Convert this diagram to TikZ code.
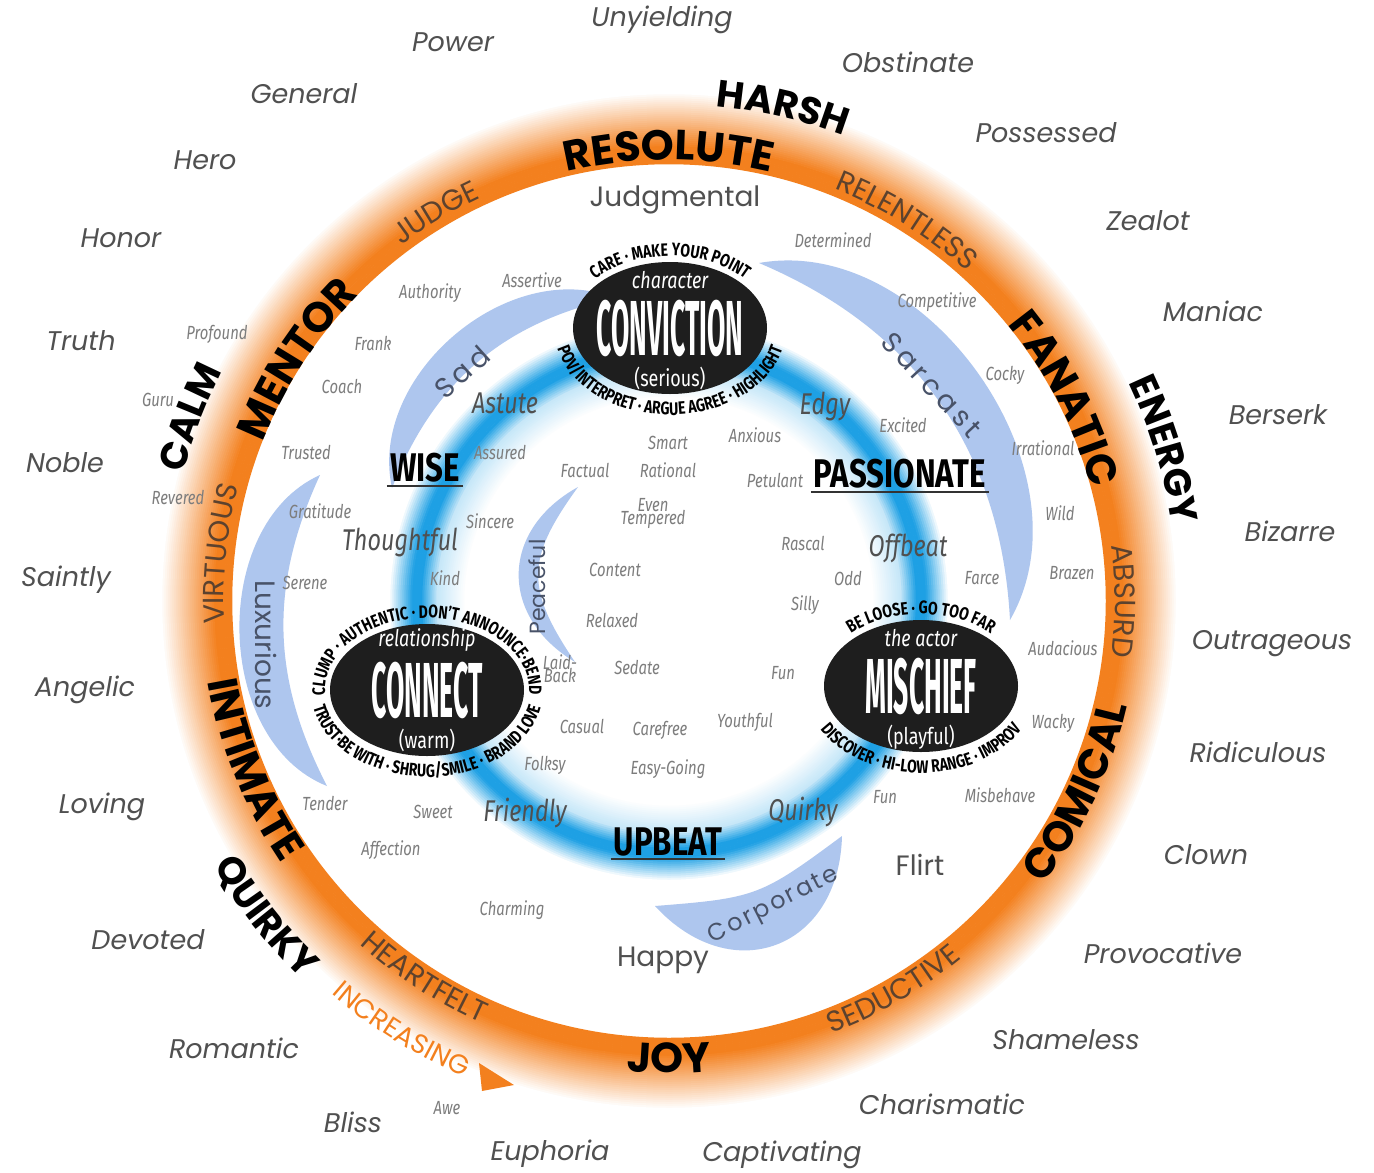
\documentclass[tikz,border=0pt]{standalone}
\usepackage{fontspec}
\usetikzlibrary{shapes.geometric}
\usetikzlibrary{positioning}
\usetikzlibrary{decorations.text}

\newfontfamily\ringfont{Poppins}
\newfontfamily\condfont[FakeStretch=0.78]{Fira Sans}
\newfontfamily\tightfont[FakeStretch=0.34]{Fira Sans}

\definecolor{ringorange}{RGB}{243,128,30}
\definecolor{glowblue}{RGB}{30,160,228}
\definecolor{crescent}{RGB}{174,198,238}
\definecolor{wordgray}{RGB}{80,80,80}
\definecolor{softgray}{RGB}{125,125,125}
\definecolor{ringbrown}{RGB}{92,66,46}
\definecolor{ovalblack}{RGB}{30,30,30}
\definecolor{slate}{RGB}{72,82,104}

\tikzset{
    outerword/.style = {font=\ringfont\itshape\fontsize{27}{27}\selectfont, text=wordgray},
    plainword/.style = {font=\ringfont\fontsize{28}{28}\selectfont, text=wordgray},
    midword/.style = {font=\condfont\itshape\fontsize{30}{30}\selectfont, text=wordgray},
    innerword/.style = {font=\condfont\itshape\fontsize{19}{19}\selectfont, text=softgray, align=center},
    bluelabel/.style = {font=\condfont\bfseries\fontsize{40}{40}\selectfont, text=black, inner sep=3pt},
    labelrule/.style = {line width=2pt, black!80},
    bigoval/.style = {ellipse, fill=ovalblack, minimum width=194, minimum height=132, inner sep=0pt},
    ovaltitle/.style = {font=\tightfont\bfseries\fontsize{78}{78}\selectfont, text=white, inner sep=0pt},
    ovaltag/.style = {font=\condfont\itshape\fontsize{23}{23}\selectfont, text=white, inner sep=0pt},
    ovalnote/.style = {font=\condfont\fontsize{23}{23}\selectfont, text=white, inner sep=0pt},
    crescentfill/.style = {fill=crescent},
    crescentword/.style = {font=\ringfont\fontsize{28}{28}\selectfont, text=slate},
    ringbold/.style = {decorate, decoration={text along path, text align=center, text color=black, text={|\ringfont\bfseries\fontsize{42}{42}\selectfont|#1}}},
    outerbold/.style = {decorate, decoration={text along path, text align=center, text color=black, text={|\ringfont\bfseries\fontsize{38}{38}\selectfont|#1}}},
    ringthin/.style = {decorate, decoration={text along path, text align=center, text color=ringbrown, text={|\ringfont\fontsize{29}{29}\selectfont|#1}}},
    risingword/.style = {decorate, decoration={text along path, text align=center, text color=ringorange, text={|\ringfont\fontsize{27}{27}\selectfont|#1}}},
    ovalring/.style = {decorate, decoration={text along path, text align=center, text color=black, text={|\condfont\bfseries\fontsize{18}{18}\selectfont|#1}}}
}

\begin{document}
\begin{tikzpicture}[x=1pt, y=1pt]
\useasboundingbox (0,0) rectangle (1374,-1173);
\fill[white] (0,0) rectangle (1374,-1173);
\coordinate (hub) at (669,-601);

% rings
\foreach \r in {438,440,...,510}{
    \pgfmathsetmacro\mix{\r<454 ? 100 : max(0,100-(\r-454)*1.85)}
    \draw[line width=2.5, ringorange!\mix!white] (hub) circle[radius=\r];
}
\foreach \r in {204,206,...,282}{
    \pgfmathsetmacro\mix{\r<232 ? (\r-204)*0.9 : (\r<248 ? 25+(\r-232)*4.7 : (\r<257 ? 100 : max(0,100-(\r-257)*4.4)))}
    \draw[line width=2.5, glowblue!\mix!white] (hub) circle[radius=\r];
}

% crescents
\coordinate (sadtip) at (392,-488);
\coordinate (sadroot) at (615,-298);
\coordinate (sarcroot) at (759,-263);
\coordinate (sarctip) at (1010,-620);
\coordinate (luxtop) at (320,-475);
\coordinate (luxbot) at (327,-786);
\coordinate (corpleft) at (655,-906);
\coordinate (corpright) at (842,-836);
\coordinate (peacetop) at (578,-487);
\coordinate (peacebot) at (575,-662);
\fill[crescentfill] (sadtip) to[bend left=62] (sadroot) to[bend right=28] (sadtip) -- cycle;
\fill[crescentfill] (sarcroot) to[bend left=65] (sarctip) to[bend right=32] (sarcroot) -- cycle;
\fill[crescentfill] (luxtop) to[bend right=67] (luxbot) to[bend left=26] (luxtop) -- cycle;
\fill[crescentfill] (corpleft) to[bend right=68, looseness=1.45] (corpright) to[bend left=16, looseness=1.3] (corpleft) -- cycle;
\fill[crescentfill] (peacetop) to[bend right=60, looseness=1.3] (peacebot) to[bend left=35, looseness=1.3] (peacetop) -- cycle;

\node[crescentword, rotate=42] at (462,-372) (sadword) {\addfontfeature{LetterSpace=15}Sad};
\node[crescentword, rotate=-47] at (932,-385) (sarcword) {\addfontfeature{LetterSpace=15}Sarcast};
\node[crescentword, rotate=-90] at (266,-645) (luxword) {Luxurious};
\node[crescentword, rotate=90, font=\ringfont\fontsize{22}{22}\selectfont] at (537,-587) (peaceword) {Peaceful};
\node[crescentword, rotate=27, font=\ringfont\fontsize{24}{24}\selectfont] at (774,-906) (corpword) {\addfontfeature{LetterSpace=10}Corporate};

% ovals
\node[bigoval] at (670,-328) (conviction) {};
\node[ovaltitle] at (conviction) (convictiontitle) {CONVICTION};
\node[ovaltag, above=10pt of convictiontitle] (convictiontag) {character};
\node[ovalnote, below=10pt of convictiontitle] (convictionnote) {(serious)};

\node[bigoval] at (427,-690) (connect) {};
\node[ovaltitle] at (connect) (connecttitle) {CONNECT};
\node[ovaltag, above=10pt of connecttitle] (connecttag) {relationship};
\node[ovalnote, below=10pt of connecttitle] (connectnote) {(warm)};

\node[bigoval] at (921,-686) (mischief) {};
\node[ovaltitle] at (mischief) (mischieftitle) {MISCHIEF};
\node[ovaltag, above=10pt of mischieftitle] (mischieftag) {the actor};
\node[ovalnote, below=10pt of mischieftitle] (mischiefnote) {(playful)};

\path[ovalring={CARE · MAKE YOUR POINT}, shift={(conviction.center)}] (170:102 and 72) arc[start angle=170, end angle=10, x radius=102, y radius=72];
\path[ovalring={POV/INTERPRET · ARGUE AGREE · HIGHLIGHT}, shift={(conviction.center)}] (170:116 and 87) arc[start angle=170, end angle=370, x radius=116, y radius=87];
\path[ovalring={CLUMP · AUTHENTIC · DON’T ANNOUNCE·BEND}, shift={(connect.center)}] (215:102 and 72) arc[start angle=215, end angle=-35, x radius=102, y radius=72];
\path[ovalring={TRUST·BE WITH · SHRUG/SMILE · BRAND LOVE}, shift={(connect.center)}] (145:116 and 87) arc[start angle=145, end angle=395, x radius=116, y radius=87];
\path[ovalring={BE LOOSE · GO TOO FAR}, shift={(mischief.center)}] (170:102 and 72) arc[start angle=170, end angle=10, x radius=102, y radius=72];
\path[ovalring={DISCOVER · HI-LOW RANGE · IMPROV}, shift={(mischief.center)}] (170:116 and 87) arc[start angle=170, end angle=370, x radius=116, y radius=87];

% ring words, upper half
\path[ringbold=RESOLUTE, shift={(hub)}] (140:441) arc[start angle=140, end angle=40, radius=441];
\path[outerbold=HARSH, shift={(hub)}] (127:497) arc[start angle=127, end angle=27, radius=497];
\path[ringthin=JUDGE, shift={(hub)}] (171:445) arc[start angle=171, end angle=71, radius=445];
\path[ringbold=MENTOR, shift={(hub)}] (197:436) arc[start angle=197, end angle=97, radius=436];
\path[outerbold=CALM, shift={(hub)}] (209:502) arc[start angle=209, end angle=109, radius=502];
\path[ringthin=VIRTUOUS, shift={(hub)}] (224:445) arc[start angle=224, end angle=124, radius=445];
\path[ringthin=RELENTLESS, shift={(hub)}] (108:444) arc[start angle=108, end angle=8, radius=444];
\path[ringbold=FANATIC, shift={(hub)}] (77:437) arc[start angle=77, end angle=-23, radius=437];
\path[outerbold=ENERGY, shift={(hub)}] (67:509) arc[start angle=67, end angle=-33, radius=509];
\path[ringthin=ABSURD, shift={(hub)}] (50:446) arc[start angle=50, end angle=-50, radius=446];

% ring words, lower half
\path[ringbold=INTIMATE, shift={(hub)}] (152:468) arc[start angle=152, end angle=252, radius=468];
\path[outerbold=QUIRKY, shift={(hub)}] (168:527) arc[start angle=168, end angle=268, radius=527];
\path[ringthin=HEARTFELT, shift={(hub)}] (187:462) arc[start angle=187, end angle=287, radius=462];
\path[risingword=INCREASING, shift={(hub)}] (188:518) arc[start angle=188, end angle=288, radius=518];
\path[ringbold=JOY, shift={(hub)}] (220:472) arc[start angle=220, end angle=320, radius=472];
\path[ringthin=SEDUCTIVE, shift={(hub)}] (250:462) arc[start angle=250, end angle=350, radius=462];
\path[ringbold=COMICAL, shift={(hub)}] (285:470) arc[start angle=285, end angle=385, radius=470];
\fill[ringorange] (479,-1063) -- (482,-1091) -- (514,-1085) -- cycle;

% blue ring labels
\node[bluelabel] at (425,-468) (wise) {WISE};
\node[bluelabel] at (900,-474) (passionate) {PASSIONATE};
\node[bluelabel] at (668,-842) (upbeat) {UPBEAT};
\draw[labelrule] (wise.south west) -- (wise.south east);
\draw[labelrule] (passionate.south west) -- (passionate.south east);
\draw[labelrule] (upbeat.south west) -- (upbeat.south east);

\node[midword] at (505,-403) (astute) {Astute};
\node[midword] at (825,-407) (edgy) {Edgy};
\node[midword] at (400,-542) (thoughtful) {Thoughtful};
\node[midword] at (908,-548) (offbeat) {Offbeat};
\node[midword] at (525,-813) (friendly) {Friendly};
\node[midword] at (803,-812) (quirky) {Quirky};

\node[plainword] at (675,-200) (judgmental) {Judgmental};
\node[plainword] at (663,-960) (happy) {Happy};
\node[plainword] at (920,-865) (flirt) {Flirt};

% inner words
\node[innerword] at (430,-293) (authority) {Authority};
\node[innerword] at (532,-280) (assertive) {Assertive};
\node[innerword] at (833,-240) (determined) {Determined};
\node[innerword] at (937,-302) (competitive) {Competitive};
\node[innerword] at (217,-334) (profound) {Profound};
\node[innerword] at (373,-343) (frank) {Frank};
\node[innerword] at (342,-387) (coach) {Coach};
\node[innerword] at (158,-400) (guru) {Guru};
\node[innerword] at (1005,-375) (cocky) {Cocky};
\node[innerword] at (306,-453) (trusted) {Trusted};
\node[innerword] at (500,-453) (assured) {Assured};
\node[innerword] at (755,-435) (anxious) {Anxious};
\node[innerword] at (668,-443) (smart) {Smart};
\node[innerword] at (903,-425) (excited) {Excited};
\node[innerword] at (1043,-448) (irrational) {Irrational};
\node[innerword] at (178,-498) (revered) {Revered};
\node[innerword] at (320,-511) (gratitude) {Gratitude};
\node[innerword] at (585,-470) (factual) {Factual};
\node[innerword] at (668,-470) (rational) {Rational};
\node[innerword] at (775,-480) (petulant) {Petulant};
\node[innerword] at (1060,-513) (wild) {Wild};
\node[innerword] at (490,-521) (sincere) {Sincere};
\node[innerword] at (653,-513) (eventempered) {Even\\[-6pt]Tempered};
\node[innerword] at (803,-543) (rascal) {Rascal};
\node[innerword] at (445,-578) (kind) {Kind};
\node[innerword] at (615,-570) (content) {Content};
\node[innerword] at (305,-583) (serene) {Serene};
\node[innerword] at (848,-578) (odd) {Odd};
\node[innerword] at (982,-578) (farce) {Farce};
\node[innerword] at (1072,-573) (brazen) {Brazen};
\node[innerword] at (805,-605) (silly) {Silly};
\node[innerword] at (612,-620) (relaxed) {Relaxed};
\node[innerword] at (1063,-648) (audacious) {Audacious};
\node[innerword] at (560,-669) (laidback) {Laid-\\[-6pt]Back};
\node[innerword] at (637,-667) (sedate) {Sedate};
\node[innerword] at (783,-673) (fun) {Fun};
\node[innerword] at (582,-726) (casual) {Casual};
\node[innerword] at (660,-730) (carefree) {Carefree};
\node[innerword] at (745,-722) (youthful) {Youthful};
\node[innerword] at (1053,-723) (wacky) {Wacky};
\node[innerword] at (545,-765) (folksy) {Folksy};
\node[innerword] at (668,-769) (easygoing) {Easy-Going};
\node[innerword] at (885,-797) (funtoo) {Fun};
\node[innerword] at (1000,-795) (misbehave) {Misbehave};
\node[innerword] at (325,-803) (tender) {Tender};
\node[innerword] at (433,-812) (sweet) {Sweet};
\node[innerword] at (391,-850) (affection) {Affection};
\node[innerword] at (512,-910) (charming) {Charming};
\node[innerword] at (447,-1108) (awe) {Awe};

% outer words
\node[outerword] at (662,-20) (unyielding) {Unyielding};
\node[outerword] at (453,-42) (power) {Power};
\node[outerword] at (908,-62) (obstinate) {Obstinate};
\node[outerword] at (304,-94) (general) {General};
\node[outerword] at (1046,-133) (possessed) {Possessed};
\node[outerword] at (205,-160) (hero) {Hero};
\node[outerword] at (1148,-221) (zealot) {Zealot};
\node[outerword] at (121,-238) (honor) {Honor};
\node[outerword] at (1213,-311) (maniac) {Maniac};
\node[outerword] at (81,-341) (truth) {Truth};
\node[outerword] at (1278,-415) (berserk) {Berserk};
\node[outerword] at (65,-463) (noble) {Noble};
\node[outerword] at (1290,-531) (bizarre) {Bizarre};
\node[outerword] at (66,-580) (saintly) {Saintly};
\node[outerword] at (1272,-644) (outrageous) {Outrageous};
\node[outerword] at (85,-690) (angelic) {Angelic};
\node[outerword] at (1258,-752) (ridiculous) {Ridiculous};
\node[outerword] at (102,-807) (loving) {Loving};
\node[outerword] at (1206,-855) (clown) {Clown};
\node[outerword] at (148,-940) (devoted) {Devoted};
\node[outerword] at (1163,-953) (provocative) {Provocative};
\node[outerword] at (234,-1048) (romantic) {Romantic};
\node[outerword] at (1066,-1040) (shameless) {Shameless};
\node[outerword] at (353,-1122) (bliss) {Bliss};
\node[outerword] at (942,-1104) (charismatic) {Charismatic};
\node[outerword] at (550,-1154) (euphoria) {Euphoria};
\node[outerword] at (782,-1155) (captivating) {Captivating};
\end{tikzpicture}
\end{document}
